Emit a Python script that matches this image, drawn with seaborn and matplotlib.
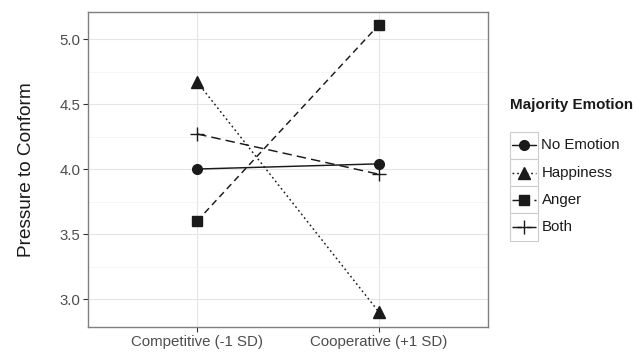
import matplotlib
matplotlib.use("Agg")
import matplotlib.pyplot as plt
from matplotlib.patches import Rectangle
from matplotlib.lines import Line2D
import seaborn as sns
import pandas as pd

# Interaction data: pressure to conform by team climate and majority emotion
climate = ["Competitive (-1 SD)", "Cooperative (+1 SD)"]
emotions = ["No Emotion", "Happiness", "Anger", "Both"]
no_emotion = [4.00, 4.04]
happiness = [4.67, 2.90]
anger = [3.60, 5.11]
both = [4.27, 3.96]

y_ticks = [3.0, 3.5, 4.0, 4.5, 5.0]

rows = []
for name, vals in zip(emotions, [no_emotion, happiness, anger, both]):
    for c, v in zip(climate, vals):
        rows.append({"Climate": c, "Emotion": name, "Pressure": v})
df = pd.DataFrame(rows)

markers = {"No Emotion": "o", "Happiness": "^", "Anger": "s", "Both": "+"}
msizes = {"No Emotion": 7.0, "Happiness": 8.5, "Anger": 7.2, "Both": 9.5}
dashes = {"No Emotion": "", "Happiness": (1.2, 2.0), "Anger": (4.5, 3), "Both": (6.5, 3.5)}
ink = "#1a1a1a"

sns.set_theme(style="white")
plt.rcParams["font.family"] = ["Liberation Sans", "DejaVu Sans"]

W, H = 644, 353
fig = plt.figure(figsize=(W / 100, H / 100), dpi=100)
L, R, T, B = 88, 488, 12, 327
ax = fig.add_axes([L / W, 1 - B / H, (R - L) / W, (B - T) / H])

for name in emotions:
    sub = df[df["Emotion"] == name]
    sns.lineplot(data=sub, x="Climate", y="Pressure", ax=ax, color=ink,
                 marker=markers[name], markersize=msizes[name],
                 markeredgecolor=ink, markerfacecolor=ink,
                 markeredgewidth=1.0, linewidth=1.05,
                 legend=False, zorder=3)
    if dashes[name]:
        ax.lines[-1].set_dashes(dashes[name])

ax.set_xlim(-0.6, 1.6)
ax.set_ylim(2.785, 5.208)
ax.set_yticks(y_ticks)
ax.set_yticklabels([f"{t:.1f}" for t in y_ticks])
ax.set_yticks([3.25, 3.75, 4.25, 4.75], minor=True)
ax.grid(True, which="major", color="#E5E5E5", linewidth=0.8, zorder=0)
ax.grid(True, which="minor", axis="y", color="#F4F4F4", linewidth=0.6, zorder=0)
ax.set_axisbelow(True)
for s in ax.spines.values():
    s.set_color("#7F7F7F")
    s.set_linewidth(1.0)
ax.tick_params(axis="both", which="major", length=3.5, width=0.8, color="#333333",
               labelcolor="#4D4D4D", labelsize=10.8, pad=2, left=True, bottom=True)
ax.tick_params(axis="y", which="minor", length=0)
ax.set_xlabel("")
ax.set_ylabel("Pressure to Conform", fontsize=13.7, color="#1a1a1a")
ax.yaxis.set_label_coords((35 - L) / (R - L), 0.5)

# Legend drawn in a pixel-space overlay
lax = fig.add_axes([0, 0, 1, 1], zorder=5)
lax.set_xlim(0, W)
lax.set_ylim(H, 0)
lax.axis("off")
lax.text(510, 105, "Majority Emotion", fontsize=10.9, fontweight="bold",
         color="#1a1a1a", ha="left", va="center")
row_h = 27.25
top0 = 131.7
for i, name in enumerate(emotions):
    y0 = top0 + i * row_h
    lax.add_patch(Rectangle((510, y0), 28, row_h, facecolor="white",
                            edgecolor="#CCCCCC", linewidth=0.8))
    yc = y0 + row_h / 2
    ln = Line2D([512, 536], [yc, yc], color=ink, linewidth=1.05)
    if dashes[name]:
        ln.set_dashes(dashes[name])
    lax.add_line(ln)
    lax.add_line(Line2D([524], [yc], marker=markers[name], markersize=msizes[name],
                        color=ink, markeredgecolor=ink, markeredgewidth=1.0,
                        linestyle="none"))
    lax.text(541.5, yc, name, fontsize=10.8, color="#1a1a1a", ha="left", va="center")

fig.savefig("out.png", dpi=100)
